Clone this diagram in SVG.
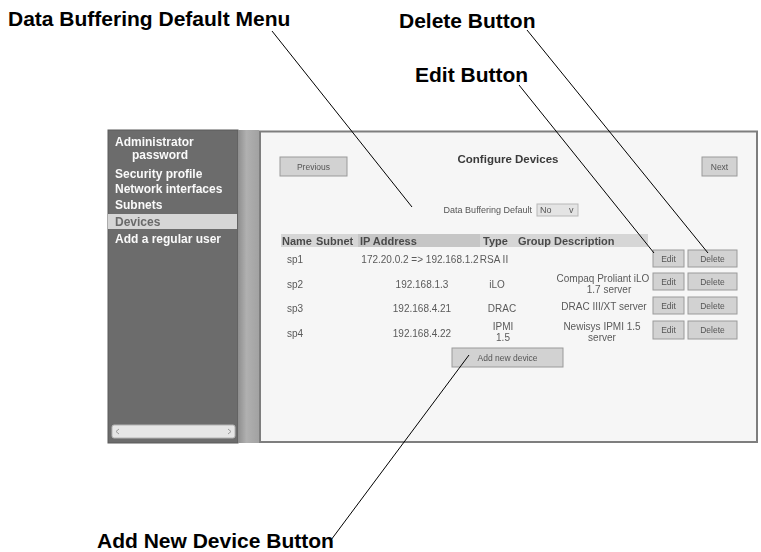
<svg xmlns="http://www.w3.org/2000/svg" width="761" height="552" viewBox="0 0 761 552">
  <defs>
    <filter id="soft" x="-2%" y="-2%" width="104%" height="104%">
      <feGaussianBlur stdDeviation="0.45"/>
    </filter>
    <linearGradient id="sepGrad" x1="0" y1="0" x2="1" y2="0">
      <stop offset="0" stop-color="#8e8e8e"/>
      <stop offset="0.4" stop-color="#b0b0b0"/>
      <stop offset="1" stop-color="#a2a2a2"/>
    </linearGradient>
  </defs>
  <style>
    .callout { font-family: "Liberation Sans", Arial, sans-serif; font-weight: bold; font-size: 21px; fill: #000; }
    .leader { stroke: #000; stroke-width: 1; fill: none; }
    .nav { font-family: "Liberation Sans", Arial, sans-serif; font-weight: bold; font-size: 12px; fill: #fafafa; }
    .ui { font-family: "Liberation Sans", Arial, sans-serif; font-size: 10px; fill: #5a5a5a; }
    .uis { font-family: "Liberation Sans", Arial, sans-serif; font-size: 9px; fill: #555; }
    .hdr { font-family: "Liberation Sans", Arial, sans-serif; font-weight: bold; font-size: 11px; fill: #4a4a4a; }
    .btn { fill: #d2d2d2; stroke: #9a9a9a; stroke-width: 1; }
    .btxt { font-family: "Liberation Sans", Arial, sans-serif; font-size: 8.5px; fill: #555; text-anchor: middle; }
    .c { text-anchor: middle; }
  </style>

  <!-- screenshot of the device configuration page -->
  <g id="screenshot" filter="url(#soft)">
    <!-- navigation panel -->
    <g id="nav-panel">
      <rect x="108" y="130" width="130" height="313" fill="#6c6c6c" stroke="#5a5a5a" stroke-width="1"/>
      <rect x="108" y="214" width="129" height="15" fill="#d6d6d6"/>
      <text class="nav" x="115" y="145.5">Administrator</text>
      <text class="nav" x="132" y="159">password</text>
      <text class="nav" x="115" y="178">Security profile</text>
      <text class="nav" x="115" y="193">Network interfaces</text>
      <text class="nav" x="115" y="209">Subnets</text>
      <text class="nav" x="115" y="226" style="fill:#6a6a6a">Devices</text>
      <text class="nav" x="115" y="243">Add a regular user</text>
      <!-- horizontal scrollbar -->
      <rect x="112" y="425" width="123" height="13" rx="2" fill="#e6e6e6" stroke="#b4b4b4"/>
      <path d="M119 429 L116 431.5 L119 434 M228 429 L231 431.5 L228 434" stroke="#9a9a9a" fill="none"/>
    </g>
    <!-- splitter -->
    <rect x="238" y="130" width="21" height="313" fill="url(#sepGrad)"/>

    <!-- content panel -->
    <g id="content-panel">
      <rect x="260" y="131.5" width="497" height="310.5" fill="#f6f6f6" stroke="#7e7e7e" stroke-width="2"/>

      <g id="btn-previous">
        <rect class="btn" x="280" y="157" width="67" height="19"/>
        <text class="btxt" x="313.5" y="169.5">Previous</text>
      </g>
      <text x="508" y="163" class="c" style="font-family:'Liberation Sans',Arial,sans-serif;font-weight:bold;font-size:11.5px;fill:#3a3a3a">Configure Devices</text>
      <g id="btn-next">
        <rect class="btn" x="702" y="157" width="35" height="19"/>
        <text class="btxt" x="719.5" y="169.5">Next</text>
      </g>

      <!-- data buffering default selector -->
      <g id="data-buffering-menu">
        <text class="uis" x="532" y="213" style="text-anchor:end">Data Buffering Default</text>
        <rect x="537" y="204" width="41" height="12" fill="#e4e4e4" stroke="#b8b8b8"/>
        <text class="uis" x="540" y="213">No</text>
        <text class="uis" x="569" y="213">v</text>
      </g>

      <!-- device table -->
      <g id="device-table">
        <rect x="281" y="234" width="367" height="13" fill="#d6d6d6"/>
        <rect x="358" y="234" width="122" height="13" fill="#c6c6c6"/>
        <text class="hdr" x="282" y="245">Name</text>
        <text class="hdr" x="316" y="245">Subnet</text>
        <text class="hdr" x="360" y="245">IP Address</text>
        <text class="hdr" x="483" y="245">Type</text>
        <text class="hdr" x="518" y="245">Group Description</text>

        <text class="ui" x="287" y="263">sp1</text>
        <text class="ui c" x="420" y="263">172.20.0.2 =&gt; 192.168.1.2</text>
        <text class="ui c" x="494" y="263">RSA II</text>

        <text class="ui" x="287" y="288">sp2</text>
        <text class="ui c" x="422" y="288">192.168.1.3</text>
        <text class="ui c" x="497" y="288">iLO</text>
        <text class="ui c" x="603" y="282">Compaq Proliant iLO</text>
        <text class="ui c" x="609" y="293">1.7 server</text>

        <text class="ui" x="287" y="312">sp3</text>
        <text class="ui c" x="422" y="312">192.168.4.21</text>
        <text class="ui c" x="502" y="312">DRAC</text>
        <text class="ui c" x="604" y="310">DRAC III/XT server</text>

        <text class="ui" x="287" y="337">sp4</text>
        <text class="ui c" x="422" y="337">192.168.4.22</text>
        <text class="ui c" x="503" y="330">IPMI</text>
        <text class="ui c" x="503" y="341">1.5</text>
        <text class="ui c" x="602" y="330">Newisys IPMI 1.5</text>
        <text class="ui c" x="602" y="341">server</text>
      </g>

      <g id="btn-edit">
        <rect class="btn" x="653" y="250" width="31" height="17"/>
        <text class="btxt" x="668.5" y="261.5">Edit</text>
        <rect class="btn" x="653" y="273" width="31" height="17"/>
        <text class="btxt" x="668.5" y="284.5">Edit</text>
        <rect class="btn" x="653" y="297" width="31" height="17"/>
        <text class="btxt" x="668.5" y="308.5">Edit</text>
        <rect class="btn" x="653" y="321" width="31" height="18"/>
        <text class="btxt" x="668.5" y="333">Edit</text>
      </g>
      <g id="btn-delete">
        <rect class="btn" x="688" y="250" width="49" height="17"/>
        <text class="btxt" x="712.5" y="261.5">Delete</text>
        <rect class="btn" x="688" y="273" width="49" height="17"/>
        <text class="btxt" x="712.5" y="284.5">Delete</text>
        <rect class="btn" x="688" y="297" width="49" height="17"/>
        <text class="btxt" x="712.5" y="308.5">Delete</text>
        <rect class="btn" x="688" y="321" width="49" height="18"/>
        <text class="btxt" x="712.5" y="333">Delete</text>
      </g>
      <g id="btn-add-device">
        <rect class="btn" x="452" y="348" width="111" height="19"/>
        <text class="btxt" x="507.5" y="360.5">Add new device</text>
      </g>
    </g>
  </g>

  <!-- callout labels -->
  <g id="label-data-buffering">
    <text class="callout" x="8" y="26">Data Buffering Default Menu</text>
  </g>
  <g id="label-delete">
    <text class="callout" x="399" y="28">Delete Button</text>
  </g>
  <g id="label-edit">
    <text class="callout" x="415" y="82">Edit Button</text>
  </g>
  <g id="label-add-device">
    <text class="callout" x="97" y="548">Add New Device Button</text>
  </g>

  <!-- leader lines -->
  <g id="connectors">
    <line class="leader" x1="272" y1="31" x2="412" y2="207"/>
    <line class="leader" x1="527" y1="30" x2="708" y2="253"/>
    <line class="leader" x1="519" y1="85" x2="654" y2="253"/>
    <line class="leader" x1="469" y1="355" x2="331" y2="540"/>
  </g>
</svg>
